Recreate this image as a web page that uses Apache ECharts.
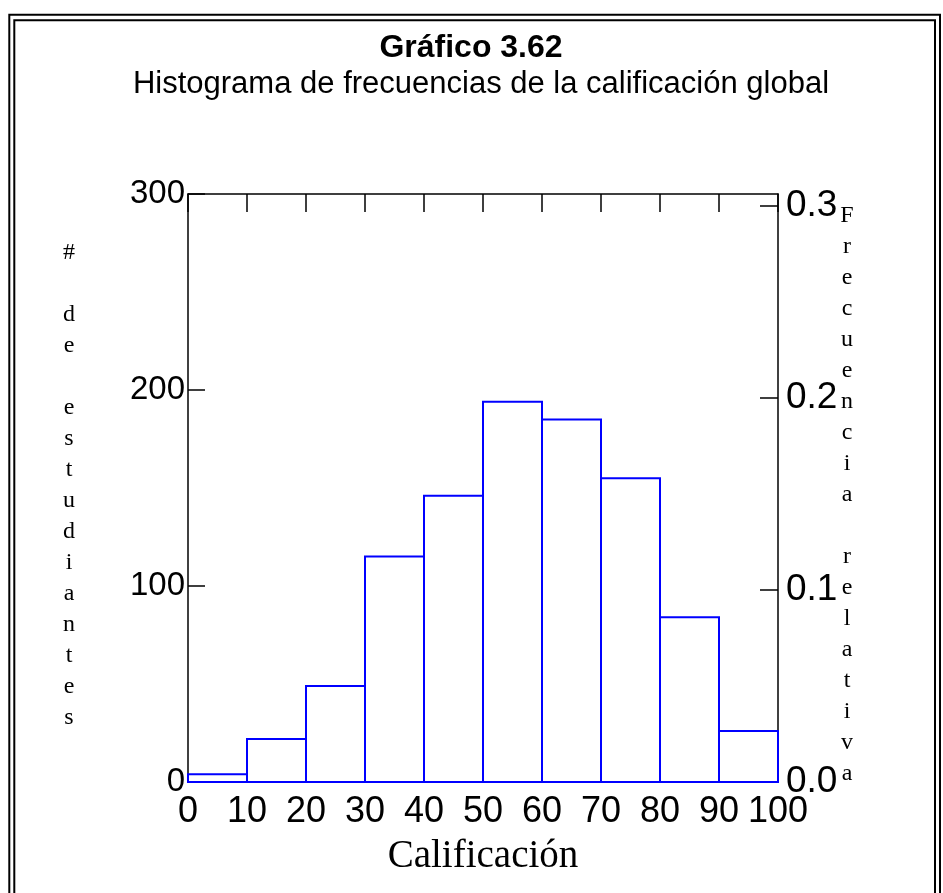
<!DOCTYPE html>
<html>
<head>
<meta charset="utf-8">
<title>Gráfico 3.62</title>
<script src="https://cdn.jsdelivr.net/npm/echarts@6/dist/echarts.min.js"></script>
<style>
    html, body { margin: 0; padding: 0; background: #fff; }
    #chart { width: 943px; height: 893px; }
</style>
</head>
<body>
<div id="chart"></div>
<script>
// límites de cada clase y número de estudiantes
const binStarts = [0, 10, 20, 30, 40, 50, 60, 70, 80, 90];
const binEnds = [10, 20, 30, 40, 50, 60, 70, 80, 90, 100];
const counts = [4, 22, 49, 115, 146, 194, 185, 155, 84, 26];

const leftTicks = [0, 100, 200, 300];
const rightTicks = [0, 0.1, 0.2, 0.3];

const titleText = 'Gráfico 3.62';
const subtitleText = 'Histograma de frecuencias de la calificación global';
const xName = 'Calificación';
const leftName = '# de estudiantes';
const rightName = 'Frecuencia relativa';

const total = counts.reduce((a, b) => a + b, 0);
const histData = binStarts.map((s, i) => [s, binEnds[i], counts[i]]);

const chartInstance = echarts.init(document.getElementById('chart'));

const stacked = str => str.split('').join('\n');
const axisLineStyle = { show: true, onZero: false, lineStyle: { color: '#000', width: 1.5 } };

let option = {
    animation: false,
    grid: { left: 188, right: 165, top: 194, bottom: 111 },
    graphic: [
        // marco doble
        { type: 'rect', shape: { x: 9.3, y: 14.7, width: 930.7, height: 1000 },
          style: { fill: 'none', stroke: '#000', lineWidth: 2 } },
        { type: 'rect', shape: { x: 14.3, y: 20.3, width: 920.7, height: 1000 },
          style: { fill: 'none', stroke: '#000', lineWidth: 2 } },
        { type: 'text', x: 471, y: 48,
          style: { text: titleText, font: 'bold 32px "Liberation Sans", Arial', fill: '#000',
                   textAlign: 'center', textVerticalAlign: 'middle' } },
        { type: 'text', x: 481, y: 84,
          style: { text: subtitleText, font: '31px "Liberation Sans", Arial', fill: '#000',
                   textAlign: 'center', textVerticalAlign: 'middle' } },
        { type: 'text', x: 483, y: 857,
          style: { text: xName, font: '39px "Liberation Serif", "Times New Roman"', fill: '#000',
                   textAlign: 'center', textVerticalAlign: 'middle' } },
        { type: 'text', x: 69, y: 237,
          style: { text: stacked(leftName), font: '24px "Liberation Serif", "Times New Roman"', fill: '#000',
                   textAlign: 'center', textVerticalAlign: 'top', lineHeight: 31 } },
        { type: 'text', x: 847, y: 200,
          style: { text: stacked(rightName), font: '24px "Liberation Serif", "Times New Roman"', fill: '#000',
                   textAlign: 'center', textVerticalAlign: 'top', lineHeight: 31 } }
    ],
    xAxis: [
        {
            type: 'value',
            position: 'bottom',
            min: 0,
            max: 100,
            interval: 10,
            splitLine: { show: false },
            axisLine: axisLineStyle,
            axisTick: { show: false },
            axisLabel: { color: '#000', fontSize: 36, fontFamily: '"Liberation Sans", Arial', margin: 12 }
        },
        {
            type: 'value',
            position: 'top',
            min: 0,
            max: 100,
            interval: 10,
            splitLine: { show: false },
            axisLine: axisLineStyle,
            axisTick: { inside: true, length: 18, lineStyle: { color: '#000', width: 1.5 } },
            axisLabel: { show: false }
        }
    ],
    yAxis: [
        {
            type: 'value',
            position: 'left',
            min: 0,
            max: 300,
            interval: 100,
            splitLine: { show: false },
            axisLine: axisLineStyle,
            axisTick: { show: true, inside: true, length: 17, lineStyle: { color: '#000', width: 1.5 } },
            axisLabel: {
                color: '#000', fontSize: 33, fontFamily: '"Liberation Sans", Arial', margin: 3,
                customValues: leftTicks
            }
        },
        {
            type: 'value',
            position: 'right',
            min: 0,
            max: 300 / total,
            splitLine: { show: false },
            axisLine: axisLineStyle,
            axisTick: {
                show: true, inside: true, length: 18, lineStyle: { color: '#000', width: 1.5 },
                customValues: rightTicks
            },
            axisLabel: {
                color: '#000', fontSize: 37, fontFamily: '"Liberation Sans", Arial', margin: 8,
                customValues: rightTicks,
                formatter: v => v.toFixed(1)
            }
        }
    ],
    series: [
        {
            type: 'custom',
            xAxisIndex: 0,
            yAxisIndex: 0,
            encode: { x: [0, 1], y: 2 },
            data: histData,
            z: 5,
            renderItem: (params, api) => {
                const p0 = api.coord([api.value(0), api.value(2)]);
                const p1 = api.coord([api.value(1), 0]);
                return {
                    type: 'rect',
                    shape: { x: p0[0], y: p0[1], width: p1[0] - p0[0], height: p1[1] - p0[1] },
                    style: { fill: 'none', stroke: '#0000ff', lineWidth: 2 }
                };
            }
        }
    ]
};
chartInstance.setOption(option);
</script>
</body>
</html>
